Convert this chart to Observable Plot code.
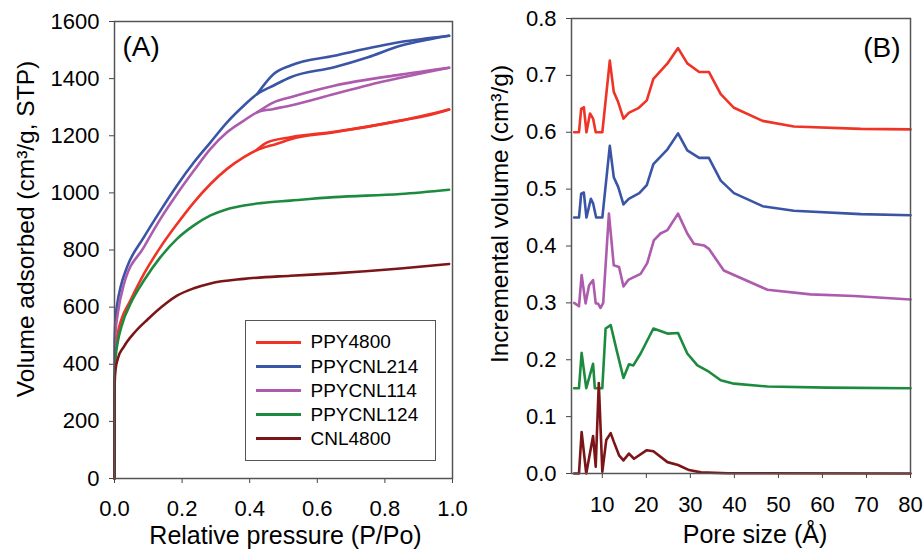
<!DOCTYPE html>
<html><head><meta charset="utf-8">
<script src="https://cdn.jsdelivr.net/npm/d3@7"></script>
<script src="https://cdn.jsdelivr.net/npm/@observablehq/plot@0.6"></script>
<style>
body{margin:0;background:#fff;font-family:"Liberation Sans",Arial,sans-serif;}
#wrap{position:relative;width:924px;height:550px;overflow:hidden;}
#left{position:absolute;left:0;top:0;}
#right{position:absolute;left:470px;top:0;}
#legend{position:absolute;left:245px;top:320px;width:191px;height:141px;box-sizing:border-box;border:1.5px solid #555;background:#fff;}
.row{position:absolute;left:9.5px;height:24px;display:flex;align-items:center;font-size:19px;color:#000;white-space:nowrap;}
.sw{width:45px;height:3px;margin-right:10px;}
</style></head>
<body>
<div id="wrap"><div id="left"></div><div id="right"></div><div id="legend"></div></div>
<script>
// ---- series names / colours ----
const names = ["PPY4800","PPYCNL214","PPYCNL114","PPYCNL124","CNL4800"];
const colors = ["#ef3327","#3a55a5","#ad5bad","#1d8b3f","#7b1517"];

// ---- Panel A: N2 isotherms [P/Po, volume] ----
const ppy4800Ads = [[0,0],[0.0005,380],[0.003,450],[0.01,510],[0.02,555],[0.047,623],[0.087,716],[0.136,810],[0.185,891],[0.235,967],[0.284,1031],[0.333,1084],[0.383,1125],[0.422,1150],[0.481,1172],[0.521,1188],[0.65,1212],[0.75,1232],[0.846,1253],[0.93,1272],[0.99,1292]];
const ppy4800Des = [[0.99,1292],[0.846,1253],[0.65,1214],[0.521,1195],[0.452,1177],[0.422,1152]];
const ppycnl214Ads = [[0,0],[0.0005,480],[0.003,560],[0.008,610],[0.018,670],[0.037,740],[0.087,845],[0.136,938],[0.185,1026],[0.235,1107],[0.284,1177],[0.333,1247],[0.383,1306],[0.422,1346],[0.471,1376],[0.521,1405],[0.65,1440],[0.75,1475],[0.846,1515],[0.93,1537],[0.99,1550]];
const ppycnl214Des = [[0.99,1550],[0.846,1528],[0.65,1480],[0.521,1446],[0.471,1416],[0.422,1346]];
const ppycnl114Ads = [[0,0],[0.0005,430],[0.003,510],[0.01,580],[0.028,681],[0.087,810],[0.136,909],[0.185,996],[0.235,1078],[0.284,1154],[0.333,1212],[0.383,1253],[0.422,1282],[0.471,1294],[0.521,1306],[0.65,1346],[0.75,1377],[0.846,1403],[0.93,1424],[0.99,1438]];
const ppycnl114Des = [[0.99,1438],[0.846,1414],[0.65,1375],[0.521,1335],[0.471,1317],[0.422,1282]];
const ppycnl124Ads = [[0,0],[0.0005,360],[0.003,420],[0.01,480],[0.02,530],[0.052,623],[0.087,693],[0.136,775],[0.185,839],[0.235,886],[0.284,921],[0.333,943],[0.383,956],[0.432,964],[0.521,973],[0.65,985],[0.846,996],[0.99,1011]];
const cnl4800Ads = [[0,0],[0.0005,330],[0.003,380],[0.01,420],[0.028,462],[0.06,512],[0.097,556],[0.151,612],[0.185,640],[0.235,666],[0.284,683],[0.383,699],[0.521,710],[0.65,718],[0.846,735],[0.99,751]];

// ---- Panel B: pore size distributions [pore size Å, incremental volume] ----
const psdPPY4800 = [[3.6,0.600],[4.7,0.600],[5.2,0.641],[5.8,0.644],[6.4,0.600],[7.2,0.633],[7.9,0.624],[8.5,0.600],[10.0,0.600],[11.7,0.726],[12.6,0.671],[13.6,0.653],[14.8,0.624],[16.0,0.634],[18.3,0.643],[20.1,0.656],[21.6,0.694],[24.8,0.721],[27.2,0.748],[29.3,0.721],[32.0,0.706],[34.2,0.706],[36.9,0.667],[39.9,0.643],[46.4,0.620],[53.5,0.610],[68.7,0.606],[80,0.605]];
const psdPPYCNL214 = [[3.6,0.450],[4.7,0.450],[5.2,0.492],[5.8,0.494],[6.4,0.450],[7.4,0.483],[7.9,0.475],[8.6,0.450],[10.0,0.450],[11.7,0.576],[12.6,0.521],[13.6,0.504],[14.8,0.473],[16.0,0.483],[18.4,0.493],[20.1,0.507],[21.6,0.544],[24.8,0.570],[27.2,0.598],[29.3,0.568],[32.0,0.555],[34.2,0.555],[36.9,0.515],[39.9,0.493],[46.4,0.470],[53.5,0.462],[68.7,0.456],[80,0.454]];
const psdPPYCNL114 = [[3.6,0.300],[4.7,0.294],[5.3,0.349],[6.2,0.299],[7.0,0.331],[7.9,0.340],[8.5,0.299],[9.0,0.299],[9.6,0.291],[10.2,0.300],[11.5,0.457],[12.6,0.366],[13.8,0.363],[14.8,0.329],[16.0,0.341],[18.7,0.351],[20.2,0.370],[21.7,0.410],[23.2,0.422],[24.8,0.428],[27.2,0.457],[29.3,0.422],[30.8,0.404],[33.1,0.401],[34.2,0.395],[37.6,0.357],[39.9,0.349],[47.5,0.323],[57.3,0.315],[67.2,0.312],[80,0.306]];
const psdPPYCNL124 = [[3.6,0.150],[4.7,0.150],[5.3,0.212],[6.35,0.150],[7.9,0.193],[8.3,0.150],[10.0,0.150],[10.75,0.255],[11.9,0.261],[13.25,0.217],[14.8,0.168],[16.05,0.192],[17.05,0.190],[18.7,0.211],[21.6,0.255],[24.8,0.246],[27.2,0.247],[29.3,0.211],[31.6,0.190],[34.2,0.179],[36.9,0.164],[39.9,0.158],[47.5,0.153],[61.1,0.151],[80,0.150]];
const psdCNL4800 = [[3.6,0],[4.7,0],[5.3,0.073],[6.35,0],[7.9,0.066],[8.5,0.012],[9.2,0.159],[10.0,0.003],[10.9,0.059],[11.9,0.071],[12.6,0.056],[13.8,0.032],[14.8,0.023],[16.05,0.035],[17.2,0.026],[20.1,0.041],[21.6,0.039],[24.8,0.020],[27.2,0.015],[29.7,0.006],[32.4,0.002],[38.5,0.0005],[80,0]];

// ---- ticks ----
const xTicksA = [0,0.2,0.4,0.6,0.8,1.0];
const yTicksA = [0,200,400,600,800,1000,1200,1400,1600];
const xTicksB = [10,20,30,40,50,60,70,80];
const yTicksB = [0,0.1,0.2,0.3,0.4,0.5,0.6,0.7,0.8];

// ---- build tables ----
const isoSets = [
  [names[0],"ads",ppy4800Ads],[names[0],"des",ppy4800Des],
  [names[1],"ads",ppycnl214Ads],[names[1],"des",ppycnl214Des],
  [names[2],"ads",ppycnl114Ads],[names[2],"des",ppycnl114Des],
  [names[3],"ads",ppycnl124Ads],
  [names[4],"ads",cnl4800Ads]
];
const isoRows = isoSets.flatMap(([n,b,arr]) => arr.map(([x,y]) => ({name:n, key:n+b, x, y})));
const psdSets = [[names[0],psdPPY4800],[names[1],psdPPYCNL214],[names[2],psdPPYCNL114],[names[3],psdPPYCNL124],[names[4],psdCNL4800]];
const psdRows = psdSets.flatMap(([n,arr]) => arr.map(([x,y]) => ({name:n, x, y})));

const font = "Liberation Sans, Arial, sans-serif";
const colorScale = {domain:names, range:colors};
const TF = 22, XLF = 25, YLF = 24.5;

const left = Plot.plot({
  width:470, height:550, marginLeft:114, marginRight:18, marginTop:21, marginBottom:72,
  x:{domain:[0,1]}, y:{domain:[0,1600]}, color:colorScale,
  style:{fontFamily:font, fontSize:TF+"px", color:"#000", background:"white"},
  marks:[
    Plot.axisX({ticks:xTicksA, tickFormat:d3.format(".1f"), tickSize:5, tickPadding:17, label:null, fontSize:TF, stroke:"#444"}),
    Plot.axisY({ticks:yTicksA, tickFormat:d3.format("d"), tickSize:5, tickPadding:10, label:null, fontSize:TF, stroke:"#444"}),
    Plot.line(isoRows, {x:"x", y:"y", z:"key", stroke:"name", strokeWidth:2.6, curve:"monotone-x"}),
    Plot.frame({stroke:"#555", strokeWidth:1.5}),
    Plot.text(["(A)"], {text:d=>d, frameAnchor:"top-left", textAnchor:"start", lineAnchor:"top", dx:8, dy:15, fontSize:28}),
    Plot.text(["Relative pressure (P/Po)"], {text:d=>d, frameAnchor:"bottom", textAnchor:"middle", lineAnchor:"middle", dx:2, dy:57, fontSize:XLF}),
    Plot.text(["Volume adsorbed (cm³/g, STP)"], {text:d=>d, frameAnchor:"left", textAnchor:"middle", lineAnchor:"middle", rotate:-90, dx:-88, dy:-21, fontSize:YLF})
  ]
});
document.getElementById("left").append(left);

const right = Plot.plot({
  width:454, height:550, marginLeft:101, marginRight:14, marginTop:18, marginBottom:77,
  x:{domain:[3,80]}, y:{domain:[0,0.8]}, color:colorScale,
  style:{fontFamily:font, fontSize:TF+"px", color:"#000", background:"white"},
  marks:[
    Plot.axisX({ticks:xTicksB, tickFormat:d3.format("d"), tickSize:5, tickPadding:18, label:null, fontSize:TF, stroke:"#444"}),
    Plot.axisY({ticks:yTicksB, tickFormat:d3.format(".1f"), tickSize:5, tickPadding:10, label:null, fontSize:TF, stroke:"#444"}),
    Plot.line(psdRows, {x:"x", y:"y", z:"name", stroke:"name", strokeWidth:2.6}),
    Plot.frame({stroke:"#555", strokeWidth:1.5}),
    Plot.text(["(B)"], {text:d=>d, frameAnchor:"top-right", textAnchor:"end", lineAnchor:"top", dx:-10, dy:19, fontSize:28}),
    Plot.text(["Pore size (Å)"], {text:d=>d, frameAnchor:"bottom", textAnchor:"middle", lineAnchor:"middle", dx:14, dy:61, fontSize:XLF}),
    Plot.text(["Incremental volume (cm³/g)"], {text:d=>d, frameAnchor:"left", textAnchor:"middle", lineAnchor:"middle", rotate:-90, dx:-71, dy:-32, fontSize:YLF})
  ]
});
document.getElementById("right").append(right);

// legend
const lg = document.getElementById("legend");
const rowTops = [9, 33.5, 57.5, 81.5, 105.5];
names.forEach((n,i) => {
  const r = document.createElement("div");
  r.className = "row";
  r.style.top = rowTops[i] + "px";
  const sw = document.createElement("span");
  sw.className = "sw"; sw.style.background = colors[i];
  const t = document.createElement("span");
  t.textContent = n;
  r.append(sw, t);
  lg.append(r);
});
</script>
</body></html>
